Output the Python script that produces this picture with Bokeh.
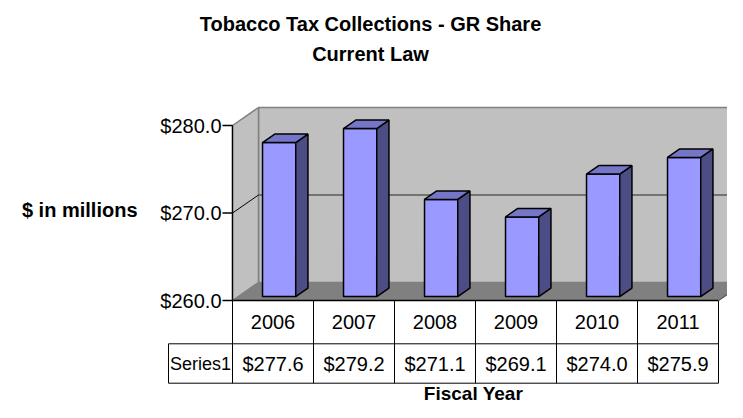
from bokeh.plotting import figure
from bokeh.models import Range1d, Label
from bokeh.core.properties import value
from bokeh.embed import file_html
from bokeh.resources import INLINE

# ---------------- data ----------------
years = ["2006", "2007", "2008", "2009", "2010", "2011"]
collections = [277.6, 279.2, 271.1, 269.1, 274.0, 275.9]
y_ticks = [260, 270, 280]
y_tick_labels = ["$260.0", "$270.0", "$280.0"]
series_name = "Series1"
title_lines = ["Tobacco Tax Collections - GR Share", "Current Law"]
y_axis_title = "$ in millions"
x_axis_title = "Fiscal Year"

# ---------------- layout ----------------
W, H = 727, 402
PX_X = 81.0          # pixels per category
PX_Y = 8.75          # pixels per $1M
X0_PX = 232          # figure px of first category boundary
Y0_PX = 300          # figure px (from top) of the axis minimum
y_min, y_max = y_ticks[0], y_ticks[-1]
n = len(years)

DX = 26.0 / PX_X     # full 3-D depth, x units
DY = 18.0 / PX_Y     # full 3-D depth, y units
F1, F2 = 0.22, 0.69  # bar depth (front/back) as fraction of full depth
BAR_OFF, BAR_W = 0.30, 0.41

ROW1_H = 43.3 / PX_Y
ROW2_H = 39.4 / PX_Y
LEFT_CELL = -64.0 / PX_X

FONT = value("Liberation Sans")
FS = "20px"

p = figure(width=W, height=H, output_backend="svg", toolbar_location=None,
           x_range=Range1d(-X0_PX / PX_X, (W - X0_PX) / PX_X),
           y_range=Range1d(y_min - (H - Y0_PX) / PX_Y, y_min + Y0_PX / PX_Y),
           x_axis_location=None, y_axis_location=None, min_border=0,
           tools="")
p.grid.visible = False
p.outline_line_color = None
p.background_fill_color = "white"
p.border_fill_color = "white"

# ---------------- walls ----------------
# back wall
p.quad(left=[DX], right=[n + DX], bottom=[y_min + DY], top=[y_max + DY],
       fill_color="#C0C0C0", line_color="#808080", line_width=1.5)
# left side wall
p.patch([0, DX, DX, 0], [y_min, y_min + DY, y_max + DY, y_max],
        fill_color="#C0C0C0", line_color="#808080", line_width=1.5)
# floor
p.patch([0, n, n + DX, DX], [y_min, y_min, y_min + DY, y_min + DY],
        fill_color="#808080", line_color="#808080", line_width=1)
# gridlines (inner ticks)
for t in y_ticks[1:-1]:
    p.line([DX, n + DX], [t + DY, t + DY], line_color="#5a5a5a", line_width=1.5)
    p.line([0, DX], [t, t + DY], line_color="black", line_width=1)

# value axis line and ticks
p.line([0, 0], [y_min, y_max], line_color="black", line_width=1.3)
p.segment(x0=[-10 / PX_X] * len(y_ticks), y0=y_ticks, x1=[0] * len(y_ticks), y1=y_ticks,
          line_color="black", line_width=1.3)
p.text(x=[-11 / PX_X] * len(y_ticks), y=y_ticks, text=y_tick_labels,
       text_font=FONT, text_font_size=FS, text_align="right", text_baseline="middle",
       text_color="black")

# ---------------- bars ----------------
dd_x, dd_y = (F2 - F1) * DX, (F2 - F1) * DY
xl = [i + BAR_OFF + F1 * DX for i in range(n)]
xr = [x + BAR_W for x in xl]
yb = [y_min + F1 * DY] * n
yt = [v + F1 * DY for v in collections]

p.quad(left=xl, right=xr, bottom=yb, top=yt,
       fill_color="#9999FF", line_color="black", line_width=1.5)
side_xs = [[r, r + dd_x, r + dd_x, r] for r in xr]
side_ys = [[b, b + dd_y, t + dd_y, t] for b, t in zip(yb, yt)]
p.patches(side_xs, side_ys, fill_color="#4D4D85", line_color="black", line_width=1.5)
top_xs = [[l, r, r + dd_x, l + dd_x] for l, r in zip(xl, xr)]
top_ys = [[t, t, t + dd_y, t + dd_y] for t in yt]
p.patches(top_xs, top_ys, fill_color="#7676C8", line_color="black", line_width=1.5)

# ---------------- data table ----------------
y_row1 = y_min - ROW1_H
y_row2 = y_row1 - ROW2_H
p.line([0, n], [y_min, y_min], line_color="black", line_width=1.3)
p.line([LEFT_CELL, n], [y_row1, y_row1], line_color="black", line_width=1)
p.line([LEFT_CELL, n], [y_row2, y_row2], line_color="black", line_width=1)
p.segment(x0=list(range(n + 1)), y0=[y_min] * (n + 1),
          x1=list(range(n + 1)), y1=[y_row2] * (n + 1), line_color="black", line_width=1)
p.segment(x0=[LEFT_CELL], y0=[y_row1], x1=[LEFT_CELL], y1=[y_row2],
          line_color="black", line_width=1)
# floor right edge
p.line([n, n + DX], [y_min, y_min + DY], line_color="#606060", line_width=1.3)

centers = [i + 0.5 for i in range(n)]
p.text(x=centers, y=[y_min - ROW1_H / 2] * n, text=years,
       text_font=FONT, text_font_size=FS, text_align="center", text_baseline="middle",
       text_color="black")
p.text(x=centers, y=[y_row1 - ROW2_H / 2] * n, text=[f"${v:.1f}" for v in collections],
       text_font=FONT, text_font_size=FS, text_align="center", text_baseline="middle",
       text_color="black")
p.text(x=[LEFT_CELL / 2], y=[y_row1 - ROW2_H / 2], text=[series_name],
       text_font=FONT, text_font_size="18px", text_align="center", text_baseline="middle",
       text_color="black")

# ---------------- titles ----------------
def add_label(x, y, text, align="center", size="20px"):
    p.add_layout(Label(x=x, y=y, x_units="screen", y_units="screen", text=text,
                       text_font="Liberation Sans", text_font_size=size,
                       text_font_style="bold", text_align=align,
                       text_baseline="middle", text_color="black"))

add_label(370, H - 23, title_lines[0])
add_label(370, H - 53, title_lines[1])
add_label(137, H - 209.5, y_axis_title, align="right")
add_label(473, H - 392.5, x_axis_title, size="19px")

open("out.html", "w").write(file_html(p, INLINE))
